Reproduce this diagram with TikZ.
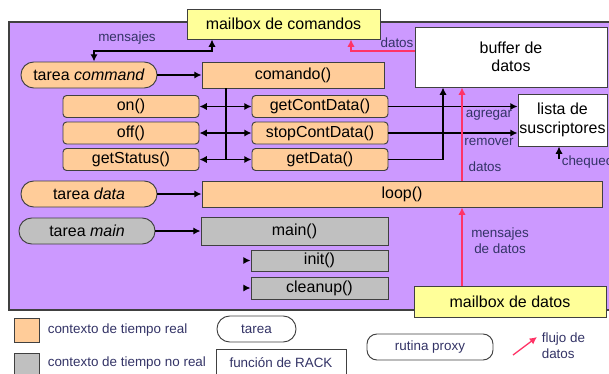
\documentclass[tikz,border=0pt]{standalone}
\usepackage{fontspec}
\setmainfont{Liberation Sans}
\usetikzlibrary{arrows.meta}
\definecolor{lila}{HTML}{CC99FF}
\definecolor{naranja}{HTML}{FFCC99}
\definecolor{gris}{HTML}{C0C0C0}
\definecolor{amarillo}{HTML}{FFFF99}
\definecolor{flujo}{HTML}{FF3366}
\definecolor{tinta}{HTML}{333366}
\definecolor{borde}{HTML}{404040}
\begin{document}
\begin{tikzpicture}[x=.022cm,y=-.022cm,line width=1pt,>={Latex[length=1.6mm,width=1.6mm]},
  every node/.style={font=\fontsize{10}{11.5}\selectfont,inner sep=0pt},
  wh/.style 2 args={minimum width=#1*.022cm,minimum height=#2*.022cm},
  caja/.style={draw=borde,line width=.6pt},
  tarea/.style={caja,rounded corners=2.8mm},
  proxy/.style={caja,rounded corners=.8mm},
  lbl/.style={font=\fontsize{8.4}{10}\selectfont,text=tinta},
  flow/.style={color=flujo,line width=.8pt,->}]
  \path[use as bounding box] (0,0) rectangle (609,373);
  % fondo del componente
  \draw[borde,fill=lila] (9,22) rectangle (614,310);
  % mailboxes y buffers
  \node[caja,fill=amarillo,wh={193}{30}] (mboxcmd) at (283.5,24) {mailbox de comandos};
  \node[caja,fill=white,wh={192}{60},align=center] (buffer) at (511,57) {buffer de\\datos};
  \node[caja,fill=white,wh={89}{52},align=center] (lista) at (562.5,120) {lista de\\suscriptores};
  \node[caja,fill=amarillo,wh={192}{31}] (mboxdat) at (510,301.5) {mailbox de datos};
  % tarea command
  \node[tarea,fill=naranja,wh={136}{26}] (tcmd) at (89,75) {tarea \textit{command}};
  \node[caja,fill=naranja,wh={182}{26}] (comando) at (293,75) {comando()};
  \node[proxy,fill=naranja,wh={136}{22}] (on) at (131,106.5) {on()};
  \node[proxy,fill=naranja,wh={136}{22}] (off) at (131,133) {off()};
  \node[proxy,fill=naranja,wh={136}{22}] (getstatus) at (131,159.5) {getStatus()};
  \node[proxy,fill=naranja,wh={136}{22}] (getcont) at (320,106.5) {getContData()};
  \node[proxy,fill=naranja,wh={136}{22}] (stopcont) at (320,133) {stopContData()};
  \node[proxy,fill=naranja,wh={136}{22}] (getdata) at (320,159.5) {getData()};
  % tareas data y main
  \node[tarea,fill=naranja,wh={136}{26}] (tdata) at (89,194) {tarea \textit{data}};
  \node[caja,fill=naranja,wh={400}{26}] (loop) at (402,194) {loop()};
  \node[tarea,fill=gris,wh={136}{26}] (tmain) at (87,231) {tarea \textit{main}};
  \node[caja,fill=gris,wh={187}{28}] (mainfn) at (294.5,231) {main()};
  \node[caja,fill=gris,wh={137}{21}] (init) at (319.5,260.5) {init()};
  \node[caja,fill=gris,wh={137}{22}] (cleanup) at (319.5,288) {cleanup()};

  % mensajes de comandos
  \coordinate (m1) at (94,51);
  \coordinate (m2) at (212,51);
  \draw[<->] (m1 |- tcmd.north) -- (m1) -- (m2) -- (m2 |- mboxcmd.south);
  \node[lbl] (lmens) at (127,38) {mensajes};
  \draw[->] (tcmd) -- (comando);
  \coordinate (v) at (226,159.5);
  \draw (v |- comando.south) -- (v);
  \draw[<->] (on) -- (getcont);
  \draw[<->] (off) -- (stopcont);
  \draw[<->] (getstatus) -- (getdata);
  % suscriptores
  \draw[->] (getcont) -- (getcont -| lista.west);
  \draw[->] (stopcont) -- (stopcont -| lista.west);
  \node[lbl] (lagr) at (489,115) {agregar};
  \node[lbl] (lrem) at (489,142) {remover};
  \coordinate (gd) at (443,0);
  \draw[->] (getdata) -| (gd |- buffer.south);
  \coordinate (ch) at (559,159);
  \draw[->] (ch) -- (ch |- lista.south);
  \node[lbl,anchor=west] (lcheq) at (561,162) {chequeo};
  % flujo de datos
  \coordinate (r1) at (351,51);
  \draw[flow] (r1 -| buffer.west) -- (r1) -- (r1 |- mboxcmd.south);
  \node[lbl] (ldat1) at (397,43) {datos};
  \coordinate (r2) at (462,0);
  \draw[flow] (r2 |- loop.north) -- (r2 |- buffer.south);
  \node[lbl] (ldat2) at (485,167) {datos};
  \draw[flow] (r2 |- mboxdat.north) -- (r2 |- loop.south);
  \node[lbl,align=center] (lmdat) at (500,241) {mensajes\\de datos};
  % tareas
  \draw[->] (tdata) -- (loop);
  \draw[->] (tmain) -- (mainfn);
  \coordinate (ti) at (244,0);
  \draw[->] (ti |- init) -- (init);
  \draw[->] (ti |- cleanup) -- (cleanup);

  % leyenda
  \node[caja,fill=naranja,wh={25}{24}] (leyrt) at (26.5,330) {};
  \node[lbl,anchor=west] (txtrt) at (47,330) {contexto de tiempo real};
  \node[caja,fill=gris,wh={25}{24}] (leynrt) at (26.5,365) {};
  \node[lbl,anchor=west] (txtnrt) at (47,363) {contexto de tiempo no real};
  \node[tarea,lbl,fill=white,wh={79}{26}] (leytarea) at (256.5,329) {tarea};
  \node[caja,lbl,fill=white,wh={130}{27}] (leyrack) at (281,362.5) {función de RACK};
  \node[caja,lbl,rounded corners=2.2mm,fill=white,wh={126}{26}] (leyproxy) at (430,347) {rutina proxy};
  \coordinate (f1) at (513,355);
  \coordinate (f2) at (537,337);
  \draw[flow] (f1) -- (f2);
  \node[lbl,align=left,anchor=west] (leyflujo) at (541,345.5) {flujo de\\datos};
\end{tikzpicture}
\end{document}
